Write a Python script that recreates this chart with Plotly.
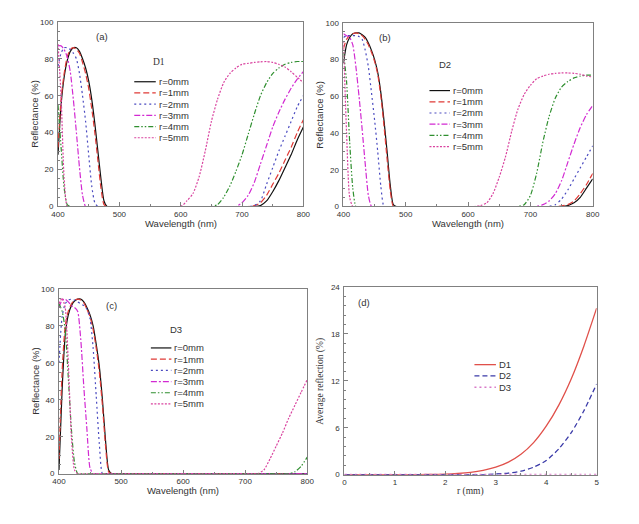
import plotly.graph_objects as go
from plotly.subplots import make_subplots

# Wavelength grid (nm): fine steps over the blue band, coarser over the red band
wavelength = [400, 405, 410, 415, 420, 425, 430, 435, 440, 445, 450, 455, 460, 465, 470,
              475, 480, 485, 490, 495, 500,
              600, 610, 620, 630, 640, 650, 660, 670, 680, 690, 700, 710, 720, 730, 740,
              750, 760, 770, 780, 790, 800]

radius_labels = ['r=0mm', 'r=1mm', 'r=2mm', 'r=3mm', 'r=4mm', 'r=5mm']

# Reflectance (%) of design D1
d1_r0 = [28, 55, 70, 79, 84, 86, 86, 84, 80, 75, 68, 58, 45, 30, 15, 3, 0, 0, 0, 0, 0,
         0, 0, 0, 0, 0, 0, 0, 0, 0, 0, 0, 0, 0, 0.5, 3, 8, 14, 21, 28, 36, 43]
d1_r1 = [32, 58, 72, 81, 85, 86, 85, 83, 78, 72, 64, 53, 40, 25, 10, 1, 0, 0, 0, 0, 0,
         0, 0, 0, 0, 0, 0, 0, 0, 0, 0, 0, 0, 0.5, 2, 6, 12, 18, 25, 32, 40, 47]
d1_r2 = [76, 83, 86, 86, 85, 83, 80, 72, 60, 46, 28, 11, 2, 0, 0, 0, 0, 0, 0, 0, 0,
         0, 0, 0, 0, 0, 0, 0, 0, 0, 0, 0, 0, 0.5, 3, 12, 21, 30, 38, 46, 54, 60]
d1_r3 = [87, 87, 85, 81, 73, 58, 40, 21, 6, 0, 0, 0, 0, 0, 0, 0, 0, 0, 0, 0, 0,
         0, 0, 0, 0, 0, 0, 0, 0, 0, 0, 2, 6, 13, 23, 33, 43, 51, 58, 64, 69, 73]
d1_r4 = [55, 32, 10, 1, 0, 0, 0, 0, 0, 0, 0, 0, 0, 0, 0, 0, 0, 0, 0, 0, 0,
         0, 0, 0, 0, 0, 0, 1, 5, 11, 19, 28, 39, 50, 60, 67, 72, 75, 77, 78, 78.5, 78.5]
d1_r5 = [88, 60, 15, 0, 0, 0, 0, 0, 0, 0, 0, 0, 0, 0, 0, 0, 0, 0, 0, 0, 0,
         0, 3, 7, 16, 30, 46, 58, 67, 72, 75, 77, 77.5, 78, 78.3, 78.5, 78, 77, 75.5, 73, 70, 67]

# Reflectance (%) of design D2
d2_r0 = [78, 88, 92, 94, 94.5, 94.5, 93.5, 92, 89, 85, 80, 73, 62, 47, 30, 12, 1, 0, 0, 0, 0,
         0, 0, 0, 0, 0, 0, 0, 0, 0, 0, 0, 0, 0, 0, 0, 0, 0.5, 2, 5, 10, 15]
d2_r1 = [86, 91, 93, 94, 94.5, 94, 93, 91, 88, 84, 79, 72, 60, 44, 26, 9, 0, 0, 0, 0, 0,
         0, 0, 0, 0, 0, 0, 0, 0, 0, 0, 0, 0, 0, 0, 0, 0.3, 1, 3, 7, 12, 18]
d2_r2 = [92, 93, 93, 93, 93, 92.5, 91, 85, 76, 62, 47, 30, 11, 0, 0, 0, 0, 0, 0, 0, 0,
         0, 0, 0, 0, 0, 0, 0, 0, 0, 0, 0, 0, 0, 0, 1, 4, 9, 15, 21, 27, 33]
d2_r3 = [94, 93, 92, 88, 76, 60, 42, 23, 6, 0, 0, 0, 0, 0, 0, 0, 0, 0, 0, 0, 0,
         0, 0, 0, 0, 0, 0, 0, 0, 0, 0, 0, 0, 1, 3, 7, 14, 24, 34, 43, 50, 55]
d2_r4 = [84, 68, 35, 10, 0, 0, 0, 0, 0, 0, 0, 0, 0, 0, 0, 0, 0, 0, 0, 0, 0,
         0, 0, 0, 0, 0, 0, 0, 0, 0, 1, 6, 18, 35, 49, 59, 65, 68, 70, 71, 71.5, 71.5]
d2_r5 = [90, 40, 5, 0, 0, 0, 0, 0, 0, 0, 0, 0, 0, 0, 0, 0, 0, 0, 0, 0, 0,
         0, 0, 0.5, 2, 7, 16, 27, 41, 53, 61, 66, 69.5, 71, 72, 72.5, 72.7, 72.7, 72.5, 72, 71, 70.5]

# Reflectance (%) of design D3
d3_r0 = [2, 45, 75, 86, 91, 93.5, 94.5, 94.5, 93, 90, 86, 80, 70, 58, 40, 18, 2, 0, 0, 0, 0,
         0, 0, 0, 0, 0, 0, 0, 0, 0, 0, 0, 0, 0, 0, 0, 0, 0, 0, 0, 0, 0]
d3_r1 = [8, 55, 80, 88, 92, 94, 94.5, 94, 92.5, 89, 85, 78, 68, 55, 37, 15, 1, 0, 0, 0, 0,
         0, 0, 0, 0, 0, 0, 0, 0, 0, 0, 0, 0, 0, 0, 0, 0, 0, 0, 0, 0, 0]
d3_r2 = [60, 85, 92, 94, 94.5, 94, 93, 92, 91, 89, 84, 68, 42, 16, 0, 0, 0, 0, 0, 0, 0,
         0, 0, 0, 0, 0, 0, 0, 0, 0, 0, 0, 0, 0, 0, 0, 0, 0, 0, 0, 0, 0]
d3_r3 = [90, 94, 94.5, 93, 91, 90, 88, 73, 47, 24, 3, 0, 0, 0, 0, 0, 0, 0, 0, 0, 0,
         0, 0, 0, 0, 0, 0, 0, 0, 0, 0, 0, 0, 0, 0, 0, 0, 0, 0, 0, 0, 0]
d3_r4 = [92, 88, 78, 52, 24, 6, 0, 0, 0, 0, 0, 0, 0, 0, 0, 0, 0, 0, 0, 0, 0,
         0, 0, 0, 0, 0, 0, 0, 0, 0, 0, 0, 0, 0, 0, 0, 0, 0, 0, 1, 4, 9]
d3_r5 = [92, 95, 90, 60, 20, 2, 0, 0, 0, 0, 0, 0, 0, 0, 0, 0, 0, 0, 0, 0, 0,
         0, 0, 0, 0, 0, 0, 0, 0, 0, 0, 0, 0, 0, 2, 8, 15, 22, 30, 37, 44, 51]

# Average reflection (%) against r (mm)
radius_mm = [0, 0.25, 0.5, 0.75, 1, 1.25, 1.5, 1.75, 2, 2.25, 2.5, 2.75, 3, 3.25, 3.5,
             3.75, 4, 4.25, 4.5, 4.75, 5]
avg_d1 = [0, 0, 0, 0, 0, 0, 0.01, 0.03, 0.06, 0.15, 0.3, 0.55, 0.95, 1.6, 2.6,
          4.1, 6.2, 8.9, 12.3, 16.5, 21.3]
avg_d2 = [0, 0, 0, 0, 0, 0, 0, 0, 0, 0, 0, 0, 0.08, 0.2, 0.45,
          0.95, 1.8, 3.3, 5.4, 8.2, 11.6]
avg_d3 = [0.03, 0.03, 0.03, 0.03, 0.03, 0.03, 0.03, 0.03, 0.03, 0.03, 0.03, 0.03, 0.03, 0.03, 0.03,
          0.03, 0.03, 0.03, 0.03, 0.03, 0.03]
design_labels = ['D1', 'D2', 'D3']

# the page body keeps its 8px margin, so the figure is drawn 16px smaller
OFF = 8
W, H = 639 - 2 * OFF, 524 - 2 * OFF
SANS = 'Arial, Liberation Sans, sans-serif'
SERIF = 'Times New Roman, Liberation Serif, serif'
TXT = '#333333'
FRAME = '#808080'

r_styles = [
    ('#111111', 'solid'),
    ('#e03a36', '6px,3px'),
    ('#4a4ac0', '2px,3px'),
    ('#d22ad2', '6px,2px,2px,2px'),
    ('#2f8f2f', '5px,2px,1.5px,2px,1.5px,2px'),
    ('#d9439f', '2px,1.5px'),
]
d_styles = [('#e0504a', 'solid'), ('#3a3aa8', '5px,3px'), ('#d87ac8', '2px,3px')]

# panel boxes in window pixels: left, right, top, bottom
boxes = [(52, 303, 18, 206), (344, 599, 19, 206), (53, 307, 290, 478), (345, 603, 288, 479)]


def fx(x):
    return (x - OFF) / W


def fy(y):
    return 1 - (y - OFF) / H


def label(text, x, y, fam=SANS, size=9.5, xanchor='center', angle=0):
    return dict(text=text, x=fx(x), y=fy(y), xref='paper', yref='paper', showarrow=False,
                xanchor=xanchor, yanchor='middle', textangle=angle,
                font=dict(family=fam, size=size, color=TXT))


fig = make_subplots(rows=2, cols=2)

spectra = [
    [d1_r0, d1_r1, d1_r2, d1_r3, d1_r4, d1_r5],
    [d2_r0, d2_r1, d2_r2, d2_r3, d2_r4, d2_r5],
    [d3_r0, d3_r1, d3_r2, d3_r3, d3_r4, d3_r5],
]
cells = [(1, 1), (1, 2), (2, 1)]
for panel, (row, col) in zip(spectra, cells):
    for i, ys in enumerate(panel):
        color, dash = r_styles[i]
        fig.add_trace(go.Scatter(
            x=wavelength, y=ys, mode='lines', name=radius_labels[i],
            line=dict(color=color, dash=dash, width=1.2, shape='spline', smoothing=0.6),
            showlegend=False), row=row, col=col)

for i, ys in enumerate([avg_d1, avg_d2, avg_d3]):
    color, dash = d_styles[i]
    fig.add_trace(go.Scatter(
        x=radius_mm, y=ys, mode='lines', name=design_labels[i],
        line=dict(color=color, dash=dash, width=1.3, shape='spline', smoothing=0.6),
        showlegend=False), row=2, col=2)

axis_common = dict(
    showline=True, mirror=True, linecolor=FRAME, linewidth=1,
    ticks='inside', ticklen=4, tickcolor=FRAME, showgrid=False, zeroline=False,
    tickfont=dict(family=SANS, size=8, color=TXT),
)

for k, (l, r, t, b) in enumerate(boxes):
    sx = '' if k == 0 else str(k + 1)
    xa = dict(axis_common, domain=[fx(l), fx(r)], ticklabelstandoff=0)
    ya = dict(axis_common, domain=[fy(b), fy(t)], ticklabelstandoff=2)
    if k < 3:
        xa.update(range=[400, 800], dtick=100,
                  minor=dict(dtick=50, ticks='inside', ticklen=2, tickcolor=FRAME))
        ya.update(range=[0, 100], dtick=20,
                  minor=dict(dtick=5, ticks='inside', ticklen=2, tickcolor=FRAME))
    else:
        xa.update(range=[0, 5], dtick=1,
                  minor=dict(dtick=0.5, ticks='inside', ticklen=2, tickcolor=FRAME))
        ya.update(range=[0, 24], dtick=6,
                  minor=dict(dtick=1.2, ticks='inside', ticklen=2, tickcolor=FRAME))
    fig.layout['xaxis' + sx].update(xa)
    fig.layout['yaxis' + sx].update(ya)

ann = []
shapes = []

# axis titles
for k, (l, r, t, b) in enumerate(boxes):
    if k < 3:
        xt, yt, fam = 'Wavelength (nm)', 'Reflectance (%)', SANS
    else:
        xt, yt, fam = 'r (mm)', 'Average reflection (%)', SERIF
    ann.append(label(xt, (l + r) / 2, b + 17.5, fam))
    ann.append(label(yt, l - 24, (t + b) / 2, fam, angle=-90))

# panel letters and design names
for text, x, y, fam in [('(a)', 97, 33, SANS), ('(b)', 386, 34, SANS), ('(c)', 107, 307, SANS),
                        ('(d)', 365, 304, SANS), ('D1', 155, 59, SERIF), ('D2', 448, 61, SANS),
                        ('D3', 173, 331, SANS)]:
    ann.append(label(text, x, y, fam))

# compact legends drawn as line samples with labels
legend_spots = [(130, 152, 79), (432, 453, 88), (147, 168, 350)]
for x0, x1, y0 in legend_spots:
    for i, name in enumerate(radius_labels):
        color, dash = r_styles[i]
        yy = y0 + i * 11.4
        shapes.append(dict(type='line', xref='paper', yref='paper', x0=fx(x0), x1=fx(x1),
                           y0=fy(yy), y1=fy(yy), line=dict(color=color, dash=dash, width=1.2)))
        ann.append(label(name, x1 + 1, yy, xanchor='left'))
for i, name in enumerate(design_labels):
    color, dash = d_styles[i]
    yy = 367 + i * 11.5
    shapes.append(dict(type='line', xref='paper', yref='paper', x0=fx(478), x1=fx(500),
                       y0=fy(yy), y1=fy(yy), line=dict(color=color, dash=dash, width=1.3)))
    ann.append(label(name, 501, yy, xanchor='left'))

fig.update_layout(
    width=W, height=H,
    margin=dict(l=0, r=0, t=0, b=0),
    paper_bgcolor='white', plot_bgcolor='white',
    annotations=ann, shapes=shapes,
)

fig.write_html("out.html")
